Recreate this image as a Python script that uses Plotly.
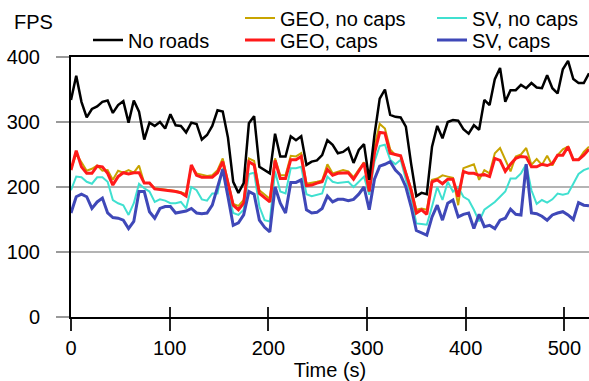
import numpy as np
import plotly.graph_objects as go

# ---------------- data ----------------
time_s = np.linspace(0, 525, 100)  # sampling grid (s)

no_roads = [334,371,331,307,320,324,331,333,314,326,
            332,299,333,316,273,299,294,300,290,312,
            295,294,284,299,297,273,280,294,318,316,
            276,208,191,206,298,309,231,226,221,282,
            247,247,278,272,278,234,239,241,249,272,
            265,252,254,260,237,257,266,211,280,336,
            350,311,308,307,293,236,186,191,189,262,
            294,275,300,303,302,289,282,295,288,334,
            326,366,383,331,349,349,357,352,360,353,
            352,372,352,344,381,394,366,360,360,375]

geo_caps = [226,256,231,221,221,232,231,221,203,216,
            222,220,222,222,206,206,197,196,196,194,
            193,191,186,234,218,215,215,215,222,239,
            206,172,165,175,239,234,190,183,177,241,
            213,213,242,242,247,202,203,206,208,227,
            218,221,222,222,212,224,237,193,252,284,
            283,252,250,248,221,195,160,165,158,208,
            211,205,212,212,185,224,221,221,218,219,
            216,244,241,224,235,244,247,246,231,231,
            235,233,236,249,249,262,242,242,249,258]

geo_nocaps = [228,251,238,225,228,233,225,226,211,225,
              222,226,222,233,206,206,198,197,197,195,
              194,192,189,232,221,219,217,218,226,244,
              211,174,171,180,244,240,195,188,182,244,
              218,218,248,247,252,205,206,208,210,235,
              221,224,226,224,215,227,238,195,262,297,
              290,258,249,248,224,198,165,167,165,211,
              213,218,216,214,172,229,232,235,211,226,
              221,252,260,243,224,247,250,260,234,243,
              234,248,233,249,258,262,242,242,254,262]

sv_nocaps = [195,216,215,208,205,215,215,208,180,175,
             172,157,175,205,198,193,177,181,179,175,
             175,177,167,200,195,181,179,190,190,229,
             193,160,157,165,220,222,170,149,147,224,
             193,190,229,229,231,189,186,188,190,216,
             208,206,207,208,200,208,216,188,239,263,
             265,242,235,242,211,185,144,143,142,170,
             200,180,208,193,200,185,180,165,147,165,
             171,177,185,193,213,213,221,235,195,174,
             180,176,181,190,188,190,205,220,226,229]

sv_caps = [160,185,189,185,167,177,183,160,153,152,
           149,136,147,193,193,162,152,167,170,170,
           160,162,163,167,160,159,160,172,200,227,
           185,141,145,157,193,189,149,138,131,200,
           175,160,207,207,211,165,160,161,167,186,
           177,181,181,179,181,189,200,165,212,232,
           235,239,226,218,200,170,133,129,126,154,
           172,149,175,180,154,158,160,136,158,139,
           141,136,149,152,166,158,157,235,160,159,
           155,149,157,160,162,157,150,176,172,171]

y_ticks = [0, 100, 200, 300, 400]
x_ticks = [0, 100, 200, 300, 400, 500]

# ---------------- figure ----------------
FONT = "Liberation Sans, Arial, sans-serif"
series = [
    ("GEO, no caps", geo_nocaps, "#C8A400", 2.0, "legend2"),
    ("SV, no caps", sv_nocaps, "#40E0D0", 2.0, "legend4"),
    ("GEO, caps", geo_caps, "#FF1A1A", 3.0, "legend3"),
    ("SV, caps", sv_caps, "#3F48B8", 3.0, "legend5"),
    ("No roads", no_roads, "#000000", 2.5, "legend"),
]

fig = go.Figure()
for name, vals, color, width, lg in series:
    fig.add_trace(go.Scatter(x=time_s, y=vals, mode="lines", name=name,
                             line=dict(color=color, width=width),
                             legend=lg, showlegend=True))

W, H = 589, 381
L, R, T, B = 71, 0, 57, 64
pw, ph = W - L - R, H - T - B

def px_x(x):
    return (x - L) / pw

def px_y(y):
    return (H - B - y) / ph

def leg(x, y):
    return dict(x=px_x(x), y=px_y(y), xanchor="left", yanchor="middle",
                orientation="v", bgcolor="rgba(0,0,0,0)", borderwidth=0,
                font=dict(family=FONT, size=20, color="#000"))

fig.update_layout(
    width=W, height=H,
    margin=dict(l=L, r=R, t=T, b=B, autoexpand=False),
    paper_bgcolor="white", plot_bgcolor="white",
    font=dict(family=FONT, size=20, color="#000"),
    legend=leg(88, 40),
    legend2=leg(240, 18),
    legend3=leg(240, 40),
    legend4=leg(432, 18),
    legend5=leg(432, 40),
    xaxis=dict(range=[0, 525], tickvals=x_ticks, ticks="outside", ticklen=12,
               tickwidth=1.5, tickcolor="#222", showgrid=False, zeroline=False,
               showline=True, linecolor="#000", linewidth=2, mirror=True,
               automargin=False,
               title=dict(text="Time (s)", standoff=2,
                          font=dict(family=FONT, size=20)),
               tickfont=dict(family=FONT, size=20)),
    xaxis2=dict(range=[0, 525], tickvals=x_ticks, ticks="inside", ticklen=10,
                tickwidth=1.5, tickcolor="#222", overlaying="x", anchor="y",
                side="bottom", showticklabels=False, showgrid=False,
                zeroline=False, showline=False),
    yaxis=dict(range=[0, 400], tickvals=y_ticks, ticks="outside", ticklen=13,
               tickwidth=1.5, tickcolor="#999", showgrid=True,
               gridcolor="#b4b4b4", gridwidth=1.5, zeroline=False,
               showline=True, linecolor="#000", linewidth=2, automargin=False,
               ticklabelstandoff=12, tickfont=dict(family=FONT, size=20)),
    annotations=[dict(text="FPS", xref="paper", yref="paper", x=px_x(12),
                      y=px_y(22), xanchor="left", yanchor="middle",
                      showarrow=False, font=dict(family=FONT, size=20))],
)
# dummy invisible trace to activate xaxis2
fig.add_trace(go.Scatter(x=[0], y=[0], xaxis="x2", yaxis="y", mode="markers",
                         marker=dict(opacity=0), showlegend=False,
                         hoverinfo="skip"))

fig.write_html("out.html",
               config={"displayModeBar": False},
               post_script="document.body.style.margin='0px';"
                           "document.body.style.padding='0px';")
